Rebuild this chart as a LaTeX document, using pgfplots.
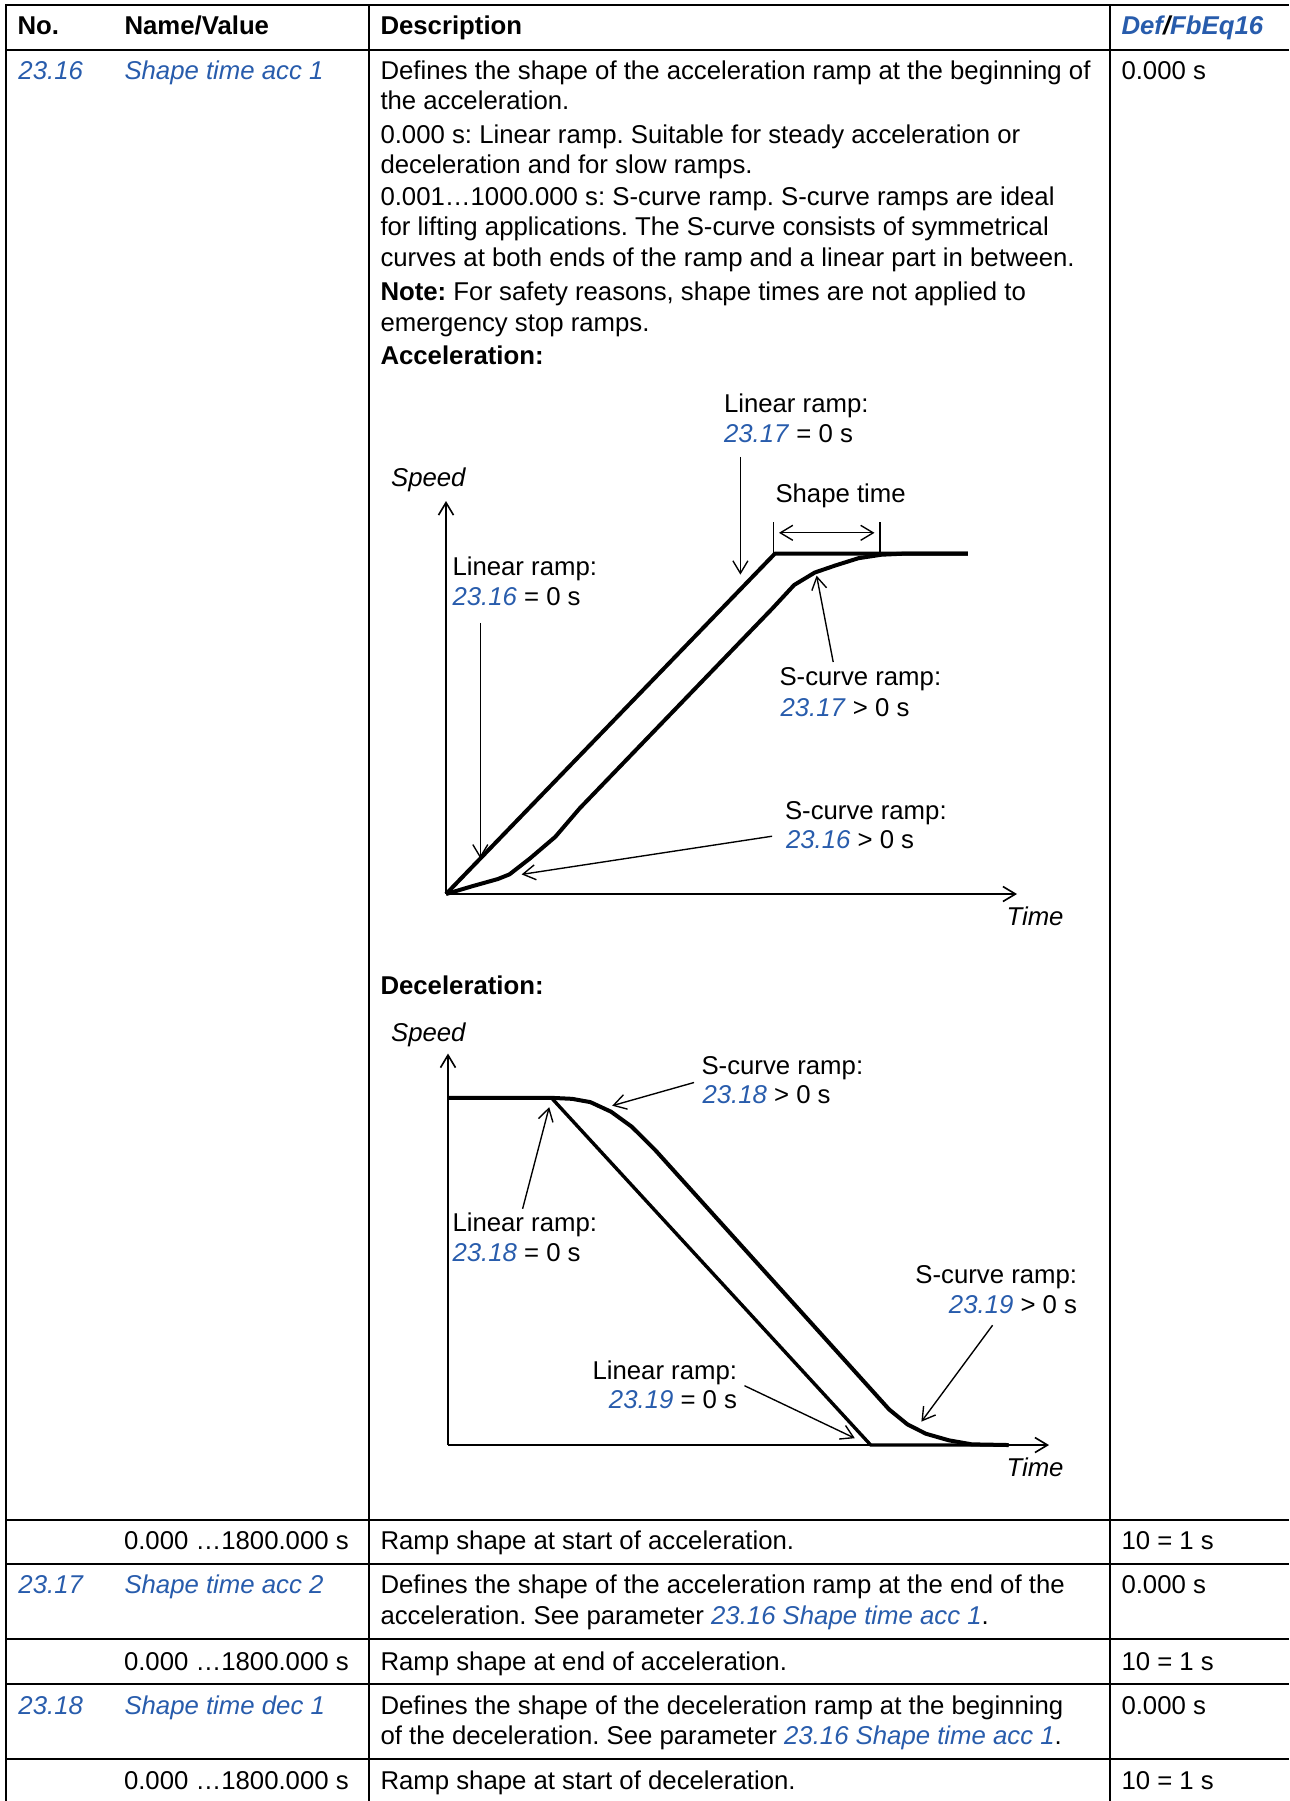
\documentclass[border=0pt]{standalone}
\usepackage{fontspec}
\setmainfont{Liberation Sans}
\usepackage{pgfplots}
\pgfplotsset{compat=1.18}
\usetikzlibrary{arrows.meta}
\definecolor{link}{RGB}{40,92,172}
\newcommand{\lk}[1]{\textcolor{link}{\textit{#1}}}
% text at (x, baseline) in reference pixels, y measured downwards
\newcommand{\T}[3]{\node[anchor=base west,inner sep=0pt] at (#1,-#2) {#3};}
\newcommand{\R}[3]{\node[anchor=base east,inner sep=0pt] at (#1,-#2) {#3};}

\pgfplotsset{ramp/.style={
    scale only axis, anchor=origin, clip=false, enlargelimits=false,
    xmin=0, ymin=0, xtick=\empty, ytick=\empty,
    axis lines=left,
    axis line style={line width=0.65pt, -{Straight Barb[length=5pt,width=6pt]}},
}}

\begin{document}
\frenchspacing
\begin{tikzpicture}[x=0.4pt,y=0.4pt,font=\fontsize{10.3pt}{12pt}\selectfont,
    ann/.style={line width=0.55pt,-{Straight Barb[length=5pt,width=6pt]}}]
\useasboundingbox (0,0) rectangle (1289,-1801);

% table grid
\begin{scope}[line width=0.8pt]
\draw (5.5,-1801) -- (5.5,-5) -- (1289,-5);
\draw (5.5,-49.5) -- (1289,-49.5);
\foreach \yy in {1519.5,1564,1639,1684,1759} \draw (5.5,-\yy) -- (1289,-\yy);
\draw (369,-5) -- (369,-1801);
\draw (1109.5,-5) -- (1109.5,-1801);
\end{scope}

% header
\T{17}{34}{\bfseries No.}
\T{124}{34}{\bfseries Name/Value}
\T{380}{34}{\bfseries Description}
\T{1121}{34}{\bfseries\itshape\textcolor{link}{Def}/\textcolor{link}{FbEq16}}

% 23.16
\T{18}{79}{\lk{23.16}}
\T{124}{79}{\lk{Shape time acc 1}}
\T{1121}{79}{0.000 s}
\T{380}{79}{Defines the shape of the acceleration ramp at the beginning of}
\T{380}{109}{the acceleration.}
\T{380}{143}{0.000 s: Linear ramp. Suitable for steady acceleration or}
\T{380}{173}{deceleration and for slow ramps.}
\T{380}{205}{0.001…1000.000 s: S-curve ramp. S-curve ramps are ideal}
\T{380}{235}{for lifting applications. The S-curve consists of symmetrical}
\T{380}{266}{curves at both ends of the ramp and a linear part in between.}
\T{380}{300}{\textbf{Note:} For safety reasons, shape times are not applied to}
\T{380}{331}{emergency stop ramps.}
\T{380}{364}{\bfseries Acceleration:}

% acceleration diagram
\begin{axis}[ramp, at={(178.4pt,-357.6pt)},
    width=228.4pt, height=157.2pt, xmax=571, ymax=393]
\addplot[line width=1.6pt, line join=round] coordinates
    {(0,0) (328.9,340.4) (521.8,340.4)};
\addplot[line width=1.6pt, line join=round] coordinates
    {(0,0) (26.6,7.9) (51.9,15.0) (63.4,19.6) (84.1,35.7) (109.3,57.2)
     (133.7,85.7) (202.6,157.2) (326.6,285.8) (348.1,309.0) (368.8,321.5)
     (389.5,328.6) (412.4,335.8) (435.4,339.3) (458.4,340.4) (521.8,340.4)};
\end{axis}
\T{390.6}{486}{\itshape Speed}
\T{1006}{925}{\itshape Time}
\T{723.5}{412}{Linear ramp:}
\T{723.5}{442}{\lk{23.17} = 0 s}
\T{775}{502}{Shape time}
\T{452}{575}{Linear ramp:}
\T{452}{605}{\lk{23.16} = 0 s}
\T{779}{685}{S-curve ramp:}
\T{780}{716}{\lk{23.17} > 0 s}
\T{784.5}{819}{S-curve ramp:}
\T{785.5}{848}{\lk{23.16} > 0 s}
\draw[ann] (740.4,-456.8) -- (740.4,-574.6);
\draw[ann] (480.3,-622.8) -- (480.3,-858.4);
\draw[ann] (833.2,-662.0) -- (816.6,-575.6);
\draw[ann] (772.1,-836.2) -- (521.6,-874.4);
\draw[line width=0.55pt] (773.4,-522) -- (773.4,-554) (880,-522) -- (880,-554);
\draw[line width=0.55pt,{Straight Barb[length=5pt,width=6pt]}-{Straight Barb[length=5pt,width=6pt]}]
    (779,-532.8) -- (874.5,-532.8);

\T{380}{994}{\bfseries Deceleration:}

% deceleration diagram
\begin{axis}[ramp, at={(179.2pt,-578pt)},
    width=240.4pt, height=156.6pt, xmax=601, ymax=391.4]
\addplot[line width=1.35pt, line join=round] coordinates
    {(0,347.1) (103.4,347.1) (422.7,0) (560.6,0)};
\addplot[line width=1.6pt, line join=round] coordinates
    {(0,347.1) (103.4,347.1) (124.1,346.1) (142.4,342.8) (163.1,333.2)
     (183.8,318.2) (207.2,294.9) (441.1,35.6) (459.5,20.6) (477.9,11.3)
     (500.9,4.7) (523.8,0.7) (560.6,0)};
\end{axis}
\T{390.6}{1041}{\itshape Speed}
\T{1006}{1476}{\itshape Time}
\T{701}{1074}{S-curve ramp:}
\T{702}{1103}{\lk{23.18} > 0 s}
\T{452}{1231}{Linear ramp:}
\T{452}{1261}{\lk{23.18} = 0 s}
\R{1077.6}{1283}{S-curve ramp:}
\R{1077.6}{1313}{\lk{23.19} > 0 s}
\R{737.6}{1379}{Linear ramp:}
\R{737.6}{1408}{\lk{23.19} = 0 s}
\draw[ann] (694.0,-1082.5) -- (612.2,-1105.7);
\draw[ann] (522.6,-1208.8) -- (549.2,-1107.1);
\draw[ann] (992.6,-1325.2) -- (921.4,-1421.6);
\draw[ann] (744.5,-1385.7) -- (854.8,-1438.2);

% remaining rows
\T{123.5}{1549}{0.000 …1800.000 s}
\T{380}{1549}{Ramp shape at start of acceleration.}
\T{1121}{1549}{10 = 1 s}

\T{18}{1593}{\lk{23.17}}
\T{124}{1593}{\lk{Shape time acc 2}}
\T{380}{1593}{Defines the shape of the acceleration ramp at the end of the}
\T{380}{1624}{acceleration. See parameter \lk{23.16 Shape time acc 1}.}
\T{1121}{1593}{0.000 s}

\T{123.5}{1670}{0.000 …1800.000 s}
\T{380}{1670}{Ramp shape at end of acceleration.}
\T{1121}{1670}{10 = 1 s}

\T{18}{1714}{\lk{23.18}}
\T{124}{1714}{\lk{Shape time dec 1}}
\T{380}{1714}{Defines the shape of the deceleration ramp at the beginning}
\T{380}{1744}{of the deceleration. See parameter \lk{23.16 Shape time acc 1}.}
\T{1121}{1714}{0.000 s}

\T{123.5}{1789}{0.000 …1800.000 s}
\T{380}{1789}{Ramp shape at start of deceleration.}
\T{1121}{1789}{10 = 1 s}
\end{tikzpicture}
\end{document}
